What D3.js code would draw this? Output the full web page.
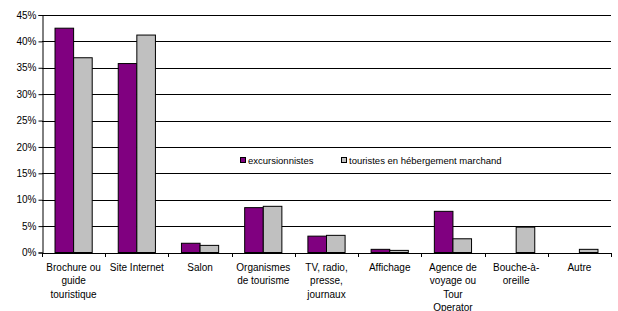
<!DOCTYPE html>
<html>
<head>
<meta charset="utf-8">
<script src="https://cdn.jsdelivr.net/npm/d3@7"></script>
<style>
body { margin: 0; background: #fff; }
svg { font-family: "Liberation Sans", Arial, sans-serif; }
</style>
</head>
<body>
<svg width="618" height="311"></svg>
<script>
var svg = d3.select('svg');

// data
var categories = [
    ['Brochure ou', 'guide', 'touristique'],
    ['Site Internet'],
    ['Salon'],
    ['Organismes', 'de tourisme'],
    ['TV, radio,', 'presse,', 'journaux'],
    ['Affichage'],
    ['Agence de', 'voyage ou', 'Tour', 'Operator'],
    ['Bouche-à-', 'oreille'],
    ['Autre']
];
var excursionnistes = [42.5, 35.8, 1.75, 8.5, 3.1, 0.6, 7.8, 0, 0];
var touristes = [36.9, 41.2, 1.35, 8.75, 3.25, 0.4, 2.6, 4.8, 0.6];
var seriesNames = ['excursionnistes', 'touristes en hébergement marchand'];
var seriesColors = ['#800080', '#c0c0c0'];
var yTicks = [0, 5, 10, 15, 20, 25, 30, 35, 40, 45];

// plot area (named to avoid window.top)
var pLeft = 42, pRight = 611, pTop = 15, pBottom = 252.5;

var x = d3.scaleBand()
    .domain(d3.range(categories.length))
    .range([pLeft, pRight])
    .paddingInner(0)
    .paddingOuter(0);

var y = d3.scaleLinear()
    .domain([0, 45])
    .range([pBottom, pTop]);

var bw = x.bandwidth() / 3.4;
var gap = (x.bandwidth() - 2 * bw) / 2;

// gridlines
svg.append('g')
    .selectAll('line')
    .data(yTicks.slice(1))
    .enter()
    .append('line')
    .attr('x1', pLeft)
    .attr('x2', pRight)
    .attr('y1', function(d){ return Math.round(y(d)) + 0.5; })
    .attr('y2', function(d){ return Math.round(y(d)) + 0.5; })
    .attr('stroke', '#000')
    .attr('stroke-width', 1);

// bars
var rows = categories.map(function(c, i){
    return [excursionnistes[i], touristes[i]];
});

var groups = svg.append('g')
    .selectAll('g')
    .data(rows)
    .enter()
    .append('g')
    .attr('transform', function(d, i){ return 'translate(' + (x(i) + gap) + ',0)'; });

groups.selectAll('rect')
    .data(function(d){
        return d.map(function(v, k){ return {v: v, k: k}; }).filter(function(e){ return e.v > 0; });
    })
    .enter()
    .append('rect')
    .attr('x', function(d){ return d.k * bw; })
    .attr('y', function(d){ return y(d.v); })
    .attr('width', bw)
    .attr('height', function(d){ return y(0) - y(d.v); })
    .attr('fill', function(d){ return seriesColors[d.k]; })
    .attr('stroke', '#000')
    .attr('stroke-width', 1);

// y axis
var yAxis = d3.axisLeft(y)
    .tickValues(yTicks)
    .tickSize(4)
    .tickFormat(function(d){ return d + '%'; });

var gy = svg.append('g')
    .attr('transform', 'translate(' + (pLeft + 0.5) + ',0)')
    .call(yAxis);
gy.select('.domain').attr('stroke', '#000');
gy.selectAll('.tick line').attr('stroke', '#000');
gy.selectAll('.tick text')
    .attr('font-size', '10px')
    .attr('fill', '#000')
    .attr('font-family', '"Liberation Sans", Arial, sans-serif')
    .attr('x', -6);

// x axis
var xEdges = d3.range(categories.length + 1).map(function(i){
    return pLeft + i * x.bandwidth();
});
svg.append('line')
    .attr('x1', pLeft)
    .attr('x2', pRight)
    .attr('y1', Math.round(pBottom) + 0.5)
    .attr('y2', Math.round(pBottom) + 0.5)
    .attr('stroke', '#000');
svg.append('g')
    .selectAll('line')
    .data(xEdges)
    .enter()
    .append('line')
    .attr('x1', function(d){ return Math.round(d) + 0.5; })
    .attr('x2', function(d){ return Math.round(d) + 0.5; })
    .attr('y1', Math.round(pBottom))
    .attr('y2', Math.round(pBottom) + 4)
    .attr('stroke', '#000');

var labels = svg.append('g')
    .selectAll('text')
    .data(categories)
    .enter()
    .append('text')
    .attr('x', function(d, i){ return x(i) + x.bandwidth() / 2; })
    .attr('y', 271)
    .attr('text-anchor', 'middle')
    .attr('font-size', '10px')
    .attr('fill', '#000');

labels.selectAll('tspan')
    .data(function(d){ return d; })
    .enter()
    .append('tspan')
    .attr('x', function(){ return d3.select(this.parentNode).attr('x'); })
    .attr('dy', function(d, i){ return i === 0 ? 0 : 13.4; })
    .text(function(d){ return d; });

// legend
var legend = svg.append('g');
legend.append('rect')
    .attr('x', 236)
    .attr('y', 149)
    .attr('width', 272)
    .attr('height', 23)
    .attr('fill', '#fff');

var legendX = [240, 341];
var items = legend.selectAll('g')
    .data(seriesNames)
    .enter()
    .append('g')
    .attr('transform', function(d, i){ return 'translate(' + legendX[i] + ',157)'; });
items.append('rect')
    .attr('x', 0.5)
    .attr('y', 0.5)
    .attr('width', 5)
    .attr('height', 5)
    .attr('fill', function(d, i){ return seriesColors[i]; })
    .attr('stroke', '#000');
items.append('text')
    .attr('x', 8)
    .attr('y', 6.5)
    .attr('font-size', '9.5px')
    .attr('fill', '#000')
    .text(function(d){ return d; });
</script>
</body>
</html>
